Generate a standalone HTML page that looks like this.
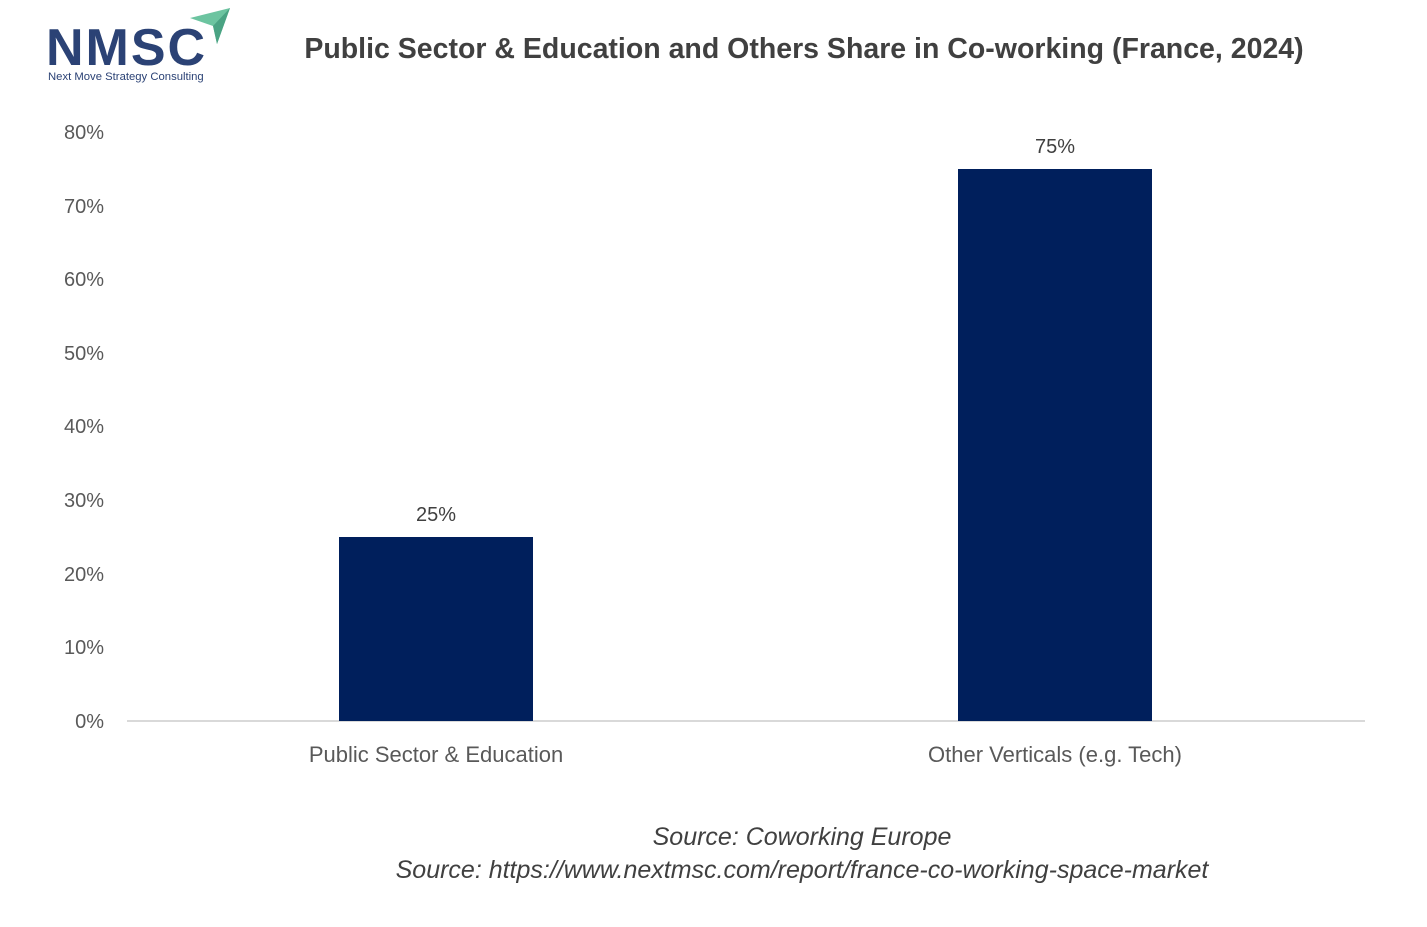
<!DOCTYPE html>
<html><head><meta charset="utf-8"><style>
body{margin:0;width:1427px;height:927px;background:#fff;font-family:"Liberation Sans",sans-serif;position:relative;overflow:hidden}
.t{position:absolute;white-space:nowrap}
.yl{position:absolute;left:40px;width:64px;text-align:right;font-size:20px;color:#595959}
</style></head><body>
<div class="t" style="left:46px;top:20px;font-size:52px;font-weight:bold;color:#2b4275;letter-spacing:2px;line-height:56px">NMSC</div>
<svg style="position:absolute;left:180px;top:6px" width="55" height="40"><polygon points="10,12 50,2 37,38 33,20" fill="#6cc4a0"/><polygon points="33,20 50,2 37,38" fill="#4aa383"/></svg>
<div class="t" style="left:48px;top:71px;font-size:11.3px;color:#2b4275">Next Move Strategy Consulting</div>
<div class="t" style="left:0;width:1608px;text-align:center;top:33px;font-size:28.5px;font-weight:bold;color:#404040">Public Sector &amp; Education and Others Share in Co-working (France, 2024)</div>
<div class="yl" style="top:122px">80%</div>
<div class="yl" style="top:196px">70%</div>
<div class="yl" style="top:269px">60%</div>
<div class="yl" style="top:343px">50%</div>
<div class="yl" style="top:416px">40%</div>
<div class="yl" style="top:490px">30%</div>
<div class="yl" style="top:564px">20%</div>
<div class="yl" style="top:637px">10%</div>
<div class="yl" style="top:711px">0%</div>
<div style="position:absolute;left:127px;top:720px;width:1238px;height:2px;background:#d9d9d9"></div>
<div style="position:absolute;left:339px;top:537px;width:194px;height:184px;background:#001f5c"></div>
<div style="position:absolute;left:958px;top:169px;width:194px;height:552px;background:#001f5c"></div>
<div class="t" style="left:336px;width:200px;text-align:center;top:504px;font-size:20px;color:#404040">25%</div>
<div class="t" style="left:955px;width:200px;text-align:center;top:136px;font-size:20px;color:#404040">75%</div>
<div class="t" style="left:236px;width:400px;text-align:center;top:742px;font-size:22px;color:#595959">Public Sector &amp; Education</div>
<div class="t" style="left:855px;width:400px;text-align:center;top:742px;font-size:22px;color:#595959">Other Verticals (e.g. Tech)</div>
<div class="t" style="left:402px;width:800px;text-align:center;top:823px;font-size:25px;font-style:italic;color:#404040">Source: Coworking Europe</div>
<div class="t" style="left:302px;width:1000px;text-align:center;top:856px;font-size:25px;font-style:italic;color:#404040">Source: https://www.nextmsc.com/report/france-co-working-space-market</div>
</body></html>
